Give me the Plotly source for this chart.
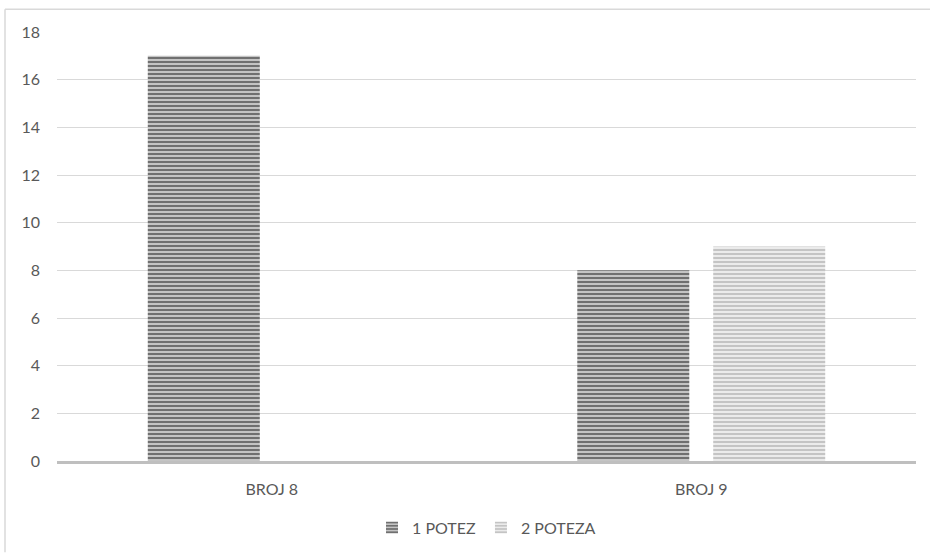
import plotly.graph_objects as go

# Chart data
categories = ["BROJ 8", "BROJ 9"]
potez_1 = [17, 8]
poteza_2 = [0, 9]
series_names = ["1 POTEZ", "2 POTEZA"]
y_ticks = [0, 2, 4, 6, 8, 10, 12, 14, 16, 18]

FONT = "Lato, 'Open Sans', sans-serif"
TEXT = "#595959"
FS = 16

fig = go.Figure()

fig.add_trace(go.Bar(
    x=categories, y=potez_1, name=series_names[0],
    marker=dict(
        color="#c4c4c4",
        line=dict(width=0),
        pattern=dict(shape="-", size=4, solidity=0.5,
                     fgcolor="#707070", bgcolor="#c4c4c4", fillmode="replace"),
    ),
))
fig.add_trace(go.Bar(
    x=categories, y=poteza_2, name=series_names[1],
    marker=dict(
        color="#ebebeb",
        line=dict(width=0),
        pattern=dict(shape="-", size=4, solidity=0.5,
                     fgcolor="#c4c4c4", bgcolor="#ebebeb", fillmode="replace"),
    ),
))

# light frame around the chart area (left and top edges)
L, R, T, B = 57, 14, 32, 92
W, H = 930, 556
pw, ph = W - L - R, H - T - B
x_left = (5 - L) / pw
x_right = (W - L) / pw
y_top = 1 + (T - 9) / ph
y_bot = -(H - T - ph) / ph
fig.add_shape(type="line", xref="paper", yref="paper",
              x0=x_left, x1=x_left, y0=y_bot, y1=y_top,
              line=dict(color="#d9d9d9", width=1.5))
fig.add_shape(type="line", xref="paper", yref="paper",
              x0=x_left, x1=x_right, y0=y_top, y1=y_top,
              line=dict(color="#d9d9d9", width=1.5))

fig.update_layout(
    width=W, height=H,
    margin=dict(l=L, r=R, t=T, b=B),
    paper_bgcolor="white", plot_bgcolor="white",
    barmode="group", bargap=0.367, bargroupgap=0.176,
    font=dict(family=FONT, size=FS, color=TEXT),
    showlegend=True,
    legend=dict(orientation="h", x=0.5, xanchor="center",
                y=-0.155, yanchor="middle",
                font=dict(family=FONT, size=FS, color=TEXT),
                itemwidth=30, traceorder="normal"),
    xaxis=dict(showline=True, linecolor="#bfbfbf", linewidth=3,
               showgrid=False, ticks="", ticklabelstandoff=12,
               tickfont=dict(family=FONT, size=FS, color=TEXT)),
    yaxis=dict(range=[0, 18], tickvals=y_ticks, showgrid=True,
               gridcolor="#d9d9d9", gridwidth=1, zeroline=False,
               showline=False, ticks="", ticklabelstandoff=16,
               tickfont=dict(family=FONT, size=FS, color=TEXT)),
)

fig.write_html("out.html")
